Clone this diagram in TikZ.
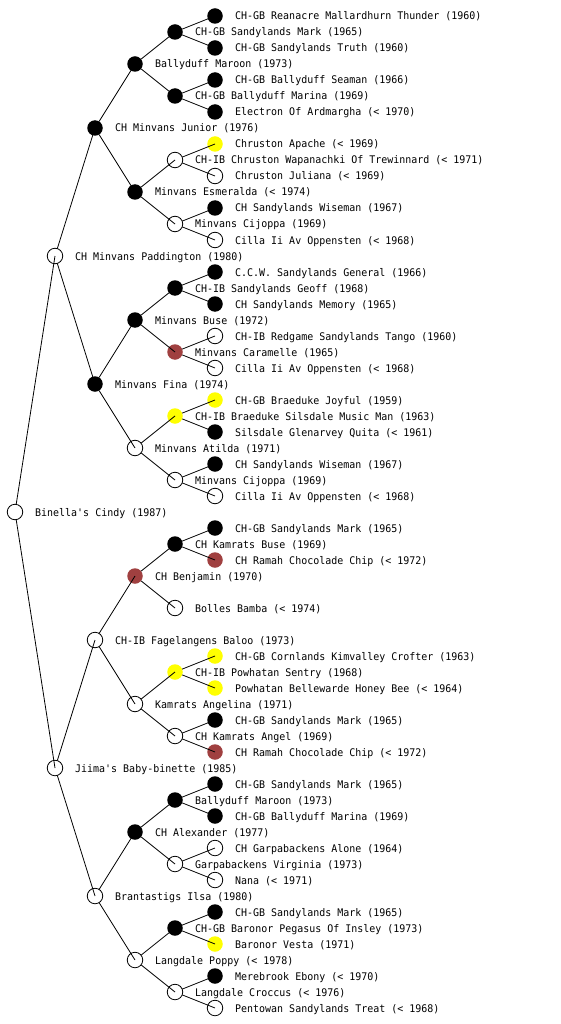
\documentclass[tikz,border=0pt]{standalone}
\usepackage{fontspec}
\setmonofont{DejaVu Sans Mono}
\newfontfamily\lblfont[FakeStretch=0.95]{DejaVu Sans Mono}
\definecolor{brn}{RGB}{160,64,64}
\definecolor{yel}{RGB}{255,255,0}
\tikzset{
  pbase/.style={circle,minimum size=15.5pt,inner sep=0pt,outer sep=0pt},
  pw/.style={pbase,draw=black,fill=white,line width=0.8pt},
  pb/.style={pbase,fill=black},
  py/.style={pbase,fill=yel},
  pr/.style={pbase,fill=brn},
  lbl/.style={anchor=base west,font=\lblfont\fontsize{10.5}{12}\selectfont,inner sep=0pt},
  edge/.style={line width=0.8pt,black}
}
\newcommand\pnode[5]{%
  \node[#4] (#1) at (#2,#3) {};
  \node[lbl] (#1t) at (#2+20,#3+4) {#5};
}
\begin{document}
\begin{tikzpicture}[x=1pt,y=-1pt]
\fill[white] (0,0) rectangle (560,1024);
\useasboundingbox (0,0) rectangle (560,1024);
% level 0
\pnode{a}{15}{512}{pw}{Binella's Cindy (1987)}
% level 1
\pnode{b1}{55}{256}{pw}{CH Minvans Paddington (1980)}
\pnode{b2}{55}{768}{pw}{Jiima's Baby-binette (1985)}
% level 2
\pnode{c1}{95}{128}{pb}{CH Minvans Junior (1976)}
\pnode{c2}{95}{384}{pb}{Minvans Fina (1974)}
\pnode{c3}{95}{640}{pw}{CH-IB Fagelangens Baloo (1973)}
\pnode{c4}{95}{896}{pw}{Brantastigs Ilsa (1980)}
% level 3
\pnode{d1}{135}{64}{pb}{Ballyduff Maroon (1973)}
\pnode{d2}{135}{192}{pb}{Minvans Esmeralda (< 1974)}
\pnode{d3}{135}{320}{pb}{Minvans Buse (1972)}
\pnode{d4}{135}{448}{pw}{Minvans Atilda (1971)}
\pnode{d5}{135}{576}{pr}{CH Benjamin (1970)}
\pnode{d6}{135}{704}{pw}{Kamrats Angelina (1971)}
\pnode{d7}{135}{832}{pb}{CH Alexander (1977)}
\pnode{d8}{135}{960}{pw}{Langdale Poppy (< 1978)}
% level 4
\pnode{e1}{175}{32}{pb}{CH-GB Sandylands Mark (1965)}
\pnode{e2}{175}{96}{pb}{CH-GB Ballyduff Marina (1969)}
\pnode{e3}{175}{160}{pw}{CH-IB Chruston Wapanachki Of Trewinnard (< 1971)}
\pnode{e4}{175}{224}{pw}{Minvans Cijoppa (1969)}
\pnode{e5}{175}{288}{pb}{CH-IB Sandylands Geoff (1968)}
\pnode{e6}{175}{352}{pr}{Minvans Caramelle (1965)}
\pnode{e7}{175}{416}{py}{CH-IB Braeduke Silsdale Music Man (1963)}
\pnode{e8}{175}{480}{pw}{Minvans Cijoppa (1969)}
\pnode{e9}{175}{544}{pb}{CH Kamrats Buse (1969)}
\pnode{e10}{175}{608}{pw}{Bolles Bamba (< 1974)}
\pnode{e11}{175}{672}{py}{CH-IB Powhatan Sentry (1968)}
\pnode{e12}{175}{736}{pw}{CH Kamrats Angel (1969)}
\pnode{e13}{175}{800}{pb}{Ballyduff Maroon (1973)}
\pnode{e14}{175}{864}{pw}{Garpabackens Virginia (1973)}
\pnode{e15}{175}{928}{pb}{CH-GB Baronor Pegasus Of Insley (1973)}
\pnode{e16}{175}{992}{pw}{Langdale Croccus (< 1976)}
% level 5
\pnode{f1}{215}{16}{pb}{CH-GB Reanacre Mallardhurn Thunder (1960)}
\pnode{f2}{215}{48}{pb}{CH-GB Sandylands Truth (1960)}
\pnode{f3}{215}{80}{pb}{CH-GB Ballyduff Seaman (1966)}
\pnode{f4}{215}{112}{pb}{Electron Of Ardmargha (< 1970)}
\pnode{f5}{215}{144}{py}{Chruston Apache (< 1969)}
\pnode{f6}{215}{176}{pw}{Chruston Juliana (< 1969)}
\pnode{f7}{215}{208}{pb}{CH Sandylands Wiseman (1967)}
\pnode{f8}{215}{240}{pw}{Cilla Ii Av Oppensten (< 1968)}
\pnode{f9}{215}{272}{pb}{C.C.W. Sandylands General (1966)}
\pnode{f10}{215}{304}{pb}{CH Sandylands Memory (1965)}
\pnode{f11}{215}{336}{pw}{CH-IB Redgame Sandylands Tango (1960)}
\pnode{f12}{215}{368}{pw}{Cilla Ii Av Oppensten (< 1968)}
\pnode{f13}{215}{400}{py}{CH-GB Braeduke Joyful (1959)}
\pnode{f14}{215}{432}{pb}{Silsdale Glenarvey Quita (< 1961)}
\pnode{f15}{215}{464}{pb}{CH Sandylands Wiseman (1967)}
\pnode{f16}{215}{496}{pw}{Cilla Ii Av Oppensten (< 1968)}
\pnode{f17}{215}{528}{pb}{CH-GB Sandylands Mark (1965)}
\pnode{f18}{215}{560}{pr}{CH Ramah Chocolade Chip (< 1972)}
\pnode{f21}{215}{656}{py}{CH-GB Cornlands Kimvalley Crofter (1963)}
\pnode{f22}{215}{688}{py}{Powhatan Bellewarde Honey Bee (< 1964)}
\pnode{f23}{215}{720}{pb}{CH-GB Sandylands Mark (1965)}
\pnode{f24}{215}{752}{pr}{CH Ramah Chocolade Chip (< 1972)}
\pnode{f25}{215}{784}{pb}{CH-GB Sandylands Mark (1965)}
\pnode{f26}{215}{816}{pb}{CH-GB Ballyduff Marina (1969)}
\pnode{f27}{215}{848}{pw}{CH Garpabackens Alone (1964)}
\pnode{f28}{215}{880}{pw}{Nana (< 1971)}
\pnode{f29}{215}{912}{pb}{CH-GB Sandylands Mark (1965)}
\pnode{f30}{215}{944}{py}{Baronor Vesta (1971)}
\pnode{f31}{215}{976}{pb}{Merebrook Ebony (< 1970)}
\pnode{f32}{215}{1008}{pw}{Pentowan Sandylands Treat (< 1968)}
% edges
\draw[edge] (a) -- (b1.center);
\draw[edge] (a) -- (b2.center);
\foreach \i in {1,2}{
  \pgfmathtruncatemacro\j{2*\i-1}\pgfmathtruncatemacro\k{2*\i}
  \draw[edge] (b\i) -- (c\j.center);
  \draw[edge] (b\i) -- (c\k.center);
}
\foreach \i in {1,...,4}{
  \pgfmathtruncatemacro\j{2*\i-1}\pgfmathtruncatemacro\k{2*\i}
  \draw[edge] (c\i) -- (d\j.center);
  \draw[edge] (c\i) -- (d\k.center);
}
\foreach \i in {1,...,8}{
  \pgfmathtruncatemacro\j{2*\i-1}\pgfmathtruncatemacro\k{2*\i}
  \draw[edge] (d\i) -- (e\j.center);
  \draw[edge] (d\i) -- (e\k.center);
}
\foreach \i in {1,...,9,11,12,13,14,15,16}{
  \pgfmathtruncatemacro\j{2*\i-1}\pgfmathtruncatemacro\k{2*\i}
  \draw[edge] (e\i) -- (f\j.center);
  \draw[edge] (e\i) -- (f\k.center);
}
\end{tikzpicture}
\end{document}
